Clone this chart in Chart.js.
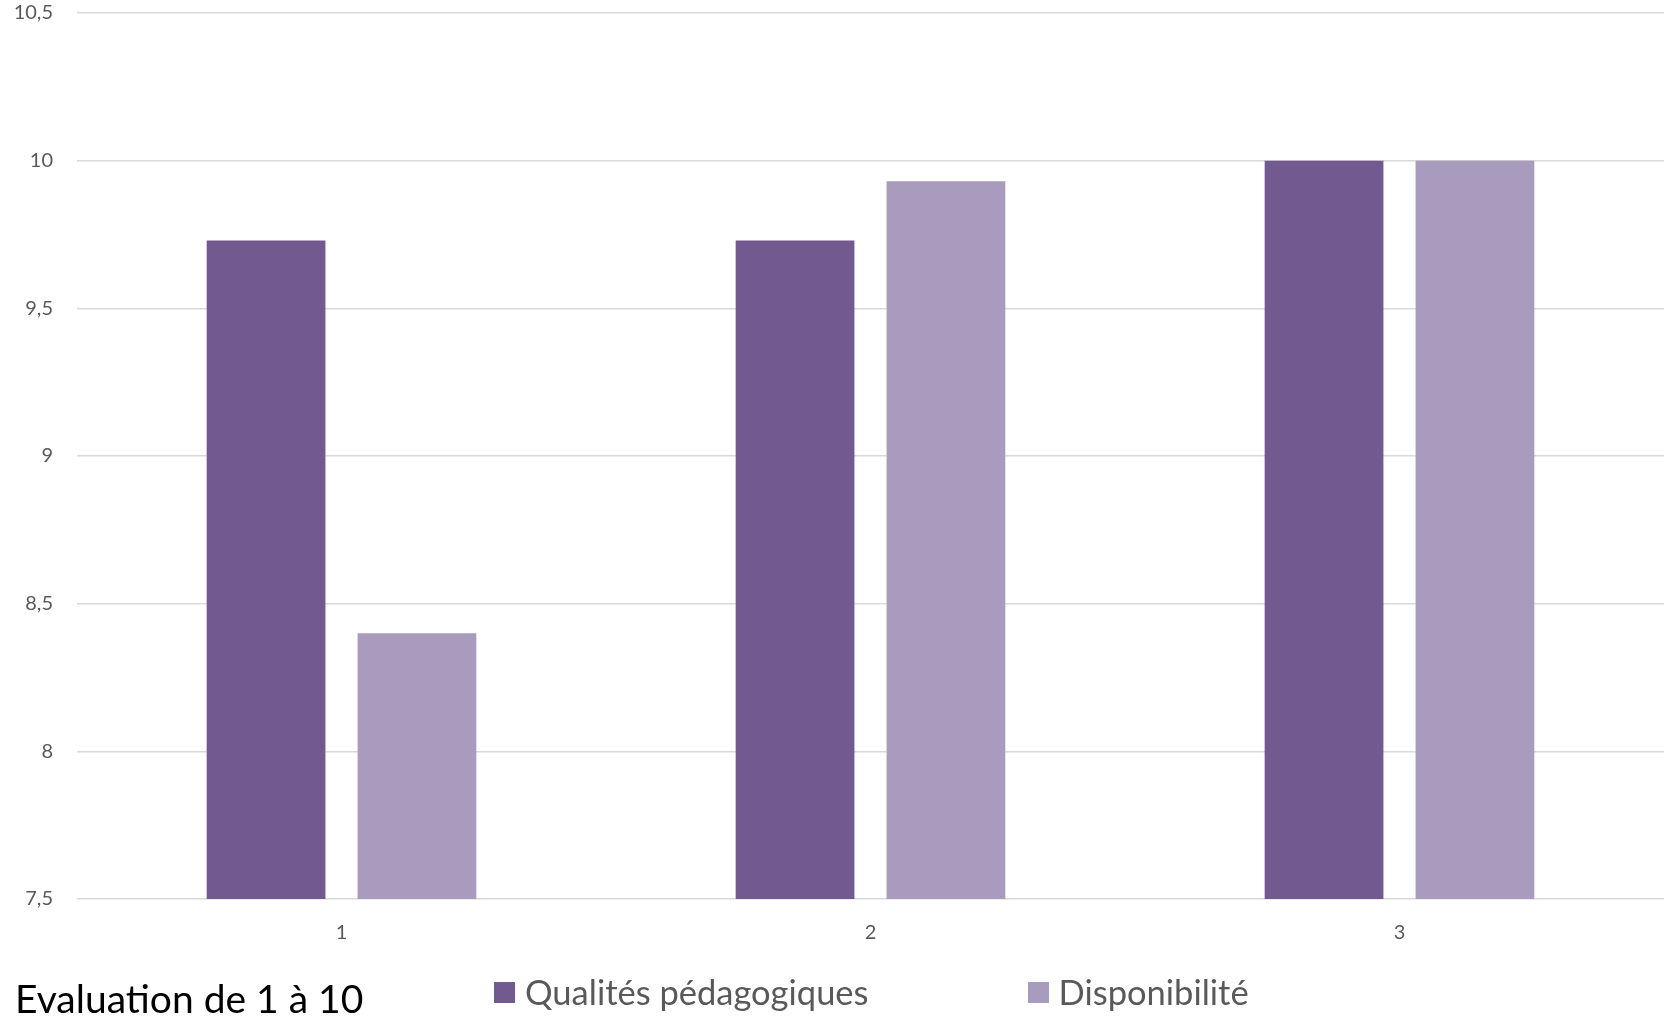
<!DOCTYPE html>
<html lang="fr">
<head>
<meta charset="utf-8">
<title>Evaluation de 1 à 10</title>
<script src="https://cdn.jsdelivr.net/npm/chart.js@4"></script>
<style>
  body { margin: 0; background: #fff; }
  #wrap { position: relative; width: 1678px; height: 1023px; }
  #title { position: absolute; left: 15px; top: 975px; font-family: Lato, sans-serif; font-size: 39px; color: #000; line-height: 46px; }
  #legend { position: absolute; left: 494px; top: 972px; display: flex; font-family: Lato, sans-serif; font-size: 34.5px; color: #595959; line-height: 40px; }
  .item { display: flex; align-items: center; margin-right: 159px; }
  .box { width: 21px; height: 21px; margin-right: 10px; }
</style>
</head>
<body>
<div id="wrap">
  <canvas id="chart"></canvas>
  <div id="title">Evaluation de 1 à 10</div>
  <div id="legend"></div>
</div>
<script>
// données
const categories = ['1', '2', '3'];
const qualites = [9.73, 9.73, 10];
const disponibilite = [8.4, 9.93, 10];
const seriesNames = ['Qualités pédagogiques', 'Disponibilité'];
const seriesColors = ['#72598f', '#a99bbd'];
const yMin = 7.5, yMax = 10.5, yStep = 0.5;

// légende en HTML (même ligne que le titre)
const legend = document.getElementById('legend');
seriesNames.forEach((name, i) => {
  const item = document.createElement('div');
  item.className = 'item';
  item.innerHTML = `<span class="box" style="background:${seriesColors[i]}"></span><span>${name}</span>`;
  legend.appendChild(item);
});

const ctx = document.getElementById('chart').getContext('2d');
new Chart(ctx, {
  type: 'bar',
  data: {
    labels: categories,
    datasets: [
      { label: seriesNames[0], data: qualites, backgroundColor: seriesColors[0] },
      { label: seriesNames[1], data: disponibilite, backgroundColor: seriesColors[1] }
    ]
  },
  options: {
    responsive: true,
    maintainAspectRatio: false,
    animation: false,
    categoryPercentage: 0.5705,
    barPercentage: 0.787,
    layout: { padding: { top: 13, right: 14, left: 0, bottom: 0 } },
    plugins: { legend: { display: false }, tooltip: { enabled: false } },
    scales: {
      x: {
        afterFit: s => { s.height = 124; },
        grid: { display: false },
        border: { display: false },
        ticks: { padding: 14, color: '#595959', font: { family: 'Lato', size: 20 } }
      },
      y: {
        min: yMin,
        max: yMax,
        afterFit: s => { s.width = 77; s.paddingTop = 0; s.paddingBottom = 0; },
        grid: { color: '#d9d9d9', lineWidth: 1.5, drawTicks: false },
        border: { display: false },
        ticks: {
          stepSize: yStep,
          padding: 24,
          color: '#595959',
          font: { family: 'Lato', size: 20 },
          callback: v => String(v).replace('.', ',') // virgule décimale
        }
      }
    }
  }
});
</script>
</body>
</html>
